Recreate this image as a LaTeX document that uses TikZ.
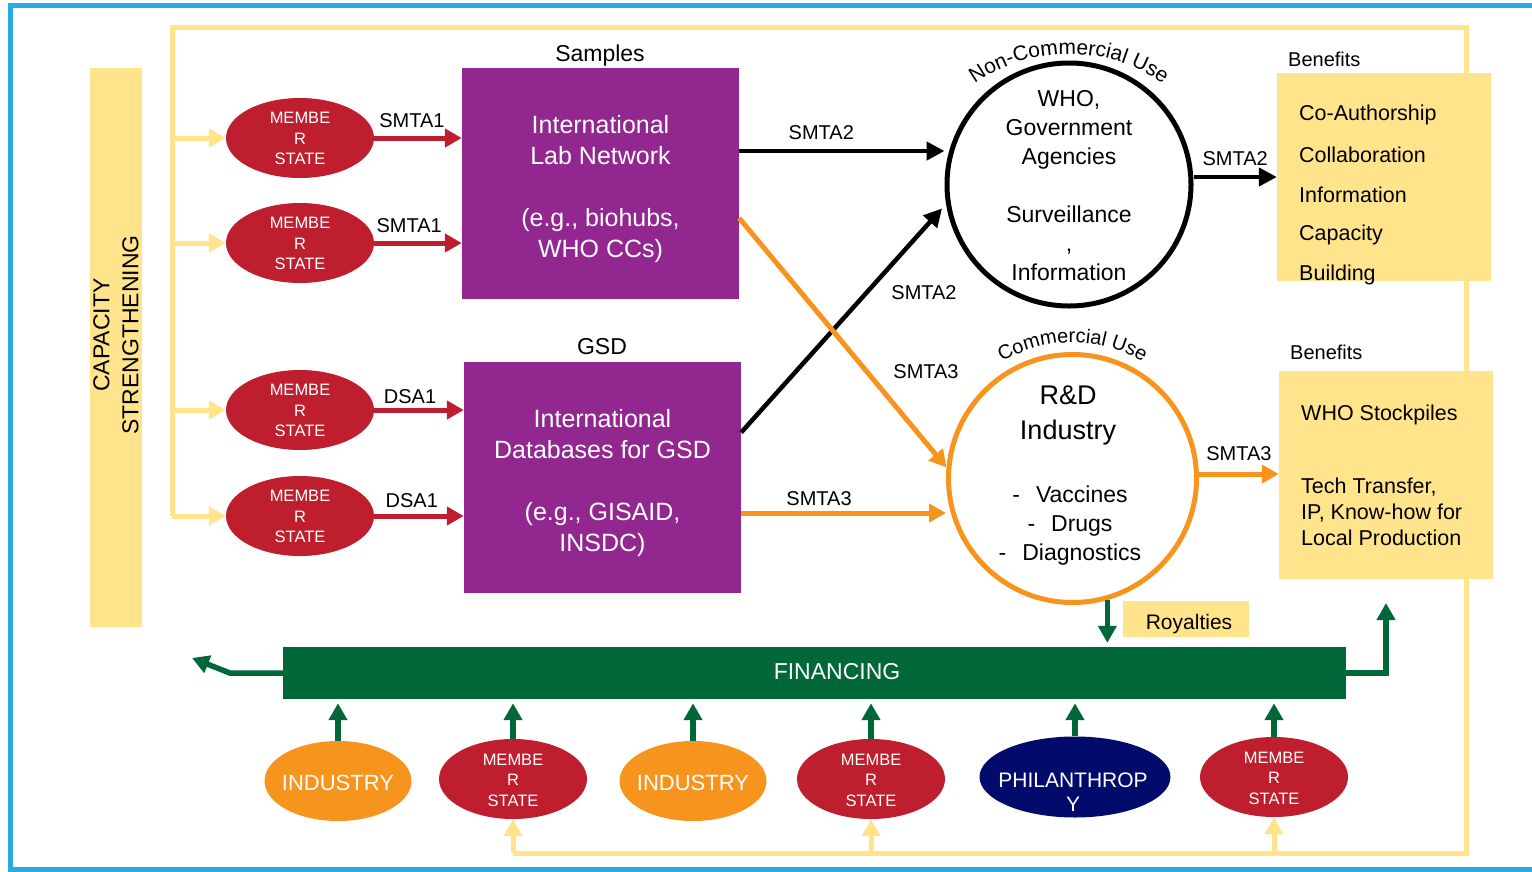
\documentclass[tikz,border=0pt]{standalone}
\usepackage{fontspec}
\setmainfont{Liberation Sans}
\usetikzlibrary{shapes.geometric,arrows.meta,decorations.text}
\definecolor{frameblue}{HTML}{29ABE2}
\definecolor{capyellow}{HTML}{FFE48C}
\definecolor{msred}{HTML}{BE1E2D}
\definecolor{hubpurple}{HTML}{92278F}
\definecolor{indorange}{HTML}{F7941D}
\definecolor{fingreen}{HTML}{006838}
\definecolor{philnavy}{HTML}{020B6B}
\newcommand{\fs}[2]{\fontsize{#1}{#2}\selectfont}

\begin{document}
\begin{tikzpicture}[x=1pt, y=1pt,
    mstate/.style={ellipse, fill=msred, minimum width=148pt, minimum height=80pt, inner sep=0pt},
    indus/.style={ellipse, fill=indorange, minimum width=147pt, minimum height=80pt, inner sep=0pt},
    etxt/.style={text=white, align=center, inner sep=0pt, font=\fs{16.5}{20.5}},
    hub/.style={fill=hubpurple, minimum width=277pt, minimum height=231pt, inner sep=0pt},
    hubtxt/.style={text=white, align=center, font=\fs{25}{31}},
    benbox/.style={fill=capyellow, minimum width=214pt, minimum height=208pt, inner sep=0pt},
    tag/.style={font=\fs{20}{24}, inner sep=1pt},
    item/.style={anchor=west, align=left, inner sep=0pt, font=\fs{21.5}{26}},
    redarr/.style={draw=msred, line width=5pt, -{Triangle[length=17pt,width=18pt]}},
    blkarr/.style={draw=black, line width=4.5pt, -{Triangle[length=18pt,width=18pt]}},
    orgarr/.style={draw=indorange, line width=5pt, -{Triangle[length=17pt,width=18pt]}},
    grnarr/.style={draw=fingreen, line width=5.5pt, -{Triangle[length=17pt,width=18pt]}},
    yelarr/.style={draw=capyellow, line width=5pt, -{Triangle[length=17pt,width=18pt]}}]
    \useasboundingbox (0,0) rectangle (1532,-871);
    \draw[frameblue, line width=5pt] (1540,-5.5) -- (10,-5.5) -- (10,-869) -- (1540,-869);

    \node[fill=capyellow, minimum width=52pt, minimum height=559pt, inner sep=0pt] (cap) at (116,-347.5) {};
    \node[rotate=90, align=center, font=\fs{23}{29}] (captxt) at (116,-335) {CAPACITY\\STRENGTHENING};

    \foreach \n/\y in {1/138,2/243,3/410,4/516}{
        \node[mstate] (ms\n) at (300,-\y) {};
        \node[etxt] (ms\n t) at (300,-\y-0.5) {MEMBE\\R\\STATE};
    }

    \node[indus] (in1) at (338,-781) {};
    \node[etxt, font=\fs{22}{26}] (in1t) at (338,-782.5) {INDUSTRY};
    \node[mstate] (bs1) at (513,-779) {};
    \node[etxt] (bs1t) at (513,-780) {MEMBE\\R\\STATE};
    \node[indus] (in2) at (693,-781) {};
    \node[etxt, font=\fs{22}{26}] (in2t) at (693,-782.5) {INDUSTRY};
    \node[mstate] (bs2) at (871,-779) {};
    \node[etxt] (bs2t) at (871,-780) {MEMBE\\R\\STATE};
    \node[ellipse, fill=philnavy, minimum width=191pt, minimum height=81pt, inner sep=0pt] (phil) at (1075,-777) {};
    \node[etxt, font=\fs{21}{24}] (philt) at (1073,-792) {PHILANTHROP\\Y};
    \node[mstate] (bs3) at (1274,-777) {};
    \node[etxt] (bs3t) at (1274,-778) {MEMBE\\R\\STATE};

    \coordinate (ytl) at (172,-27);
    \coordinate (ytr) at (1466,-27);
    \coordinate (ybr) at (1466,-853);
    \draw[capyellow, line width=5pt] (ms4.west -| ytl) -- (ytl) -- (ytr) -- (ybr) -- (ybr -| bs1.south);
    \foreach \m in {ms1,ms2,ms3,ms4}
        \draw[yelarr] (\m.west -| ytl) -- (\m.west);
    \foreach \m in {bs1,bs2,bs3}
        \draw[yelarr] (\m.south |- ybr) -- (\m.south);

    \node[hub] (lab) at (600.5,-183.5) {};
    \node[hubtxt] (labtxt) at (600.5,-189) {International\\Lab Network\\\mbox{}\\(e.g., biohubs,\\WHO CCs)};
    \node[font=\fs{23}{27}] (samples) at (600,-55.5) {Samples};
    \node[hub] (gsd) at (602.5,-477.5) {};
    \node[hubtxt] (gsdtxt) at (602.5,-483) {International\\Databases for GSD\\\mbox{}\\(e.g., GISAID,\\INSDC)};
    \node[font=\fs{23}{27}] (gsdlbl) at (602,-347) {GSD};

    \draw[redarr] (ms1) -- (ms1 -| lab.west) node[tag, pos=0.43, above=7pt] (s1) {SMTA1};
    \draw[redarr] (ms2) -- (ms2 -| lab.west) node[tag, pos=0.40, above=7pt] (s2) {SMTA1};
    \draw[redarr] (ms3) -- (ms3 -| gsd.west) node[tag, pos=0.40, above=3pt] (d1) {DSA1};
    \draw[redarr] (ms4) -- (ms4 -| gsd.west) node[tag, pos=0.42, above=5pt] (d2) {DSA1};

    \node[ellipse, draw, line width=5pt, minimum width=244pt, minimum height=243pt, inner sep=0pt] (who) at (1069,-184.5) {};
    \node[align=center, font=\fs{23}{29}] (whotxt) at (1069,-185.5) {WHO,\\Government\\Agencies\\\mbox{}\\Surveillance\\,\\Information};
    \path[decorate, decoration={text along path, text align=center, text={|\fs{21}{25}|Non-Commercial Use}}]
        ([shift={(140:164)}]1069,-218) arc[start angle=140, end angle=40, radius=164];

    \node[ellipse, draw=indorange, line width=5pt, minimum width=248pt, minimum height=248pt, inner sep=0pt] (rnd) at (1072.5,-478.5) {};
    \node[align=center, font=\fs{27}{35}] (rndtitle) at (1068,-415) {R\&D\\Industry};
    \node[align=center, font=\fs{23}{29}] (rndlist) at (1070,-526) {-\hspace{16pt}Vaccines\\-\hspace{16pt}Drugs\\-\hspace{16pt}Diagnostics};
    \path[decorate, decoration={text along path, text align=center, text={|\fs{20}{24}|Commercial Use}}]
        ([shift={(150:136)}]1072.5,-478.5) arc[start angle=150, end angle=30, radius=136];

    \draw[blkarr] ([yshift=32.5pt]lab.east) -- ([yshift=32.5pt]lab.east -| who.west) node[tag, pos=0.4, above=8pt] (s3) {SMTA2};
    \draw[blkarr, shorten >=6pt] (gsd.18) -- (who.189);
    \node[tag] (s4) at (924,-293) {SMTA2};
    \draw[orgarr] (lab.-14) -- (rnd.175);
    \node[tag] (s5) at (926,-372) {SMTA3};
    \draw[orgarr] ([yshift=-35.5pt]gsd.east) -- ([yshift=-35.5pt]gsd.east -| rnd.west) node[tag, pos=0.38, above=4pt] (s6) {SMTA3};

    \node[benbox] (ben1) at (1384,-177) {};
    \node[anchor=west, font=\fs{20}{24}, inner sep=0pt] (ben1t) at (1288,-59) {Benefits};
    \foreach \t [count=\i] in {Co-Authorship,Collaboration,Information,Capacity,Building}
        \node[item] (ben1i\i) at (1299,-75.5-39.8*\i) {\t};
    \node[benbox] (ben2) at (1386,-475) {};
    \node[anchor=west, font=\fs{20}{24}, inner sep=0pt] (ben2t) at (1290,-352) {Benefits};
    \node[item] (ben2a) at (1301,-415) {WHO Stockpiles};
    \node[item] (ben2b) at (1301,-511.5) {Tech Transfer,\\IP, Know-how for\\Local Production};

    \draw[blkarr] ([yshift=7.5pt]who.east) -- ([yshift=7.5pt]who.east -| ben1.west) node[tag, midway, above=8pt] (s7) {SMTA2};
    \draw[orgarr] ([yshift=4.5pt]rnd.east) -- ([yshift=4.5pt]rnd.east -| ben2.west) node[tag, midway, above=10pt] (s8) {SMTA3};

    \node[fill=fingreen, minimum width=1063pt, minimum height=52pt, inner sep=0pt] (fin) at (814.5,-673) {};
    \node[text=white, font=\fs{23}{27}] (fintxt) at (837,-672) {FINANCING};
    \node[fill=capyellow, minimum width=126pt, minimum height=36pt, inner sep=0pt] (roy) at (1186,-619) {};
    \node[font=\fs{21}{25}] (roytxt) at (1189,-624) {Royalties};
    \draw[grnarr, shorten >=4pt] (rnd.-74) -- (rnd.-74 |- fin.north);
    \foreach \e in {in1,bs1,in2,bs2,phil,bs3}
        \draw[grnarr, shorten >=4pt] (\e.north) -- (\e.north |- fin.south);
    \coordinate (finout) at (192,-658);
    \coordinate (finup) at (1386,-603);
    \draw[grnarr] (fin.west) -- ([xshift=-53pt]fin.west) -- (finout);
    \draw[grnarr] (fin.east) -| (finup);
\end{tikzpicture}
\end{document}
